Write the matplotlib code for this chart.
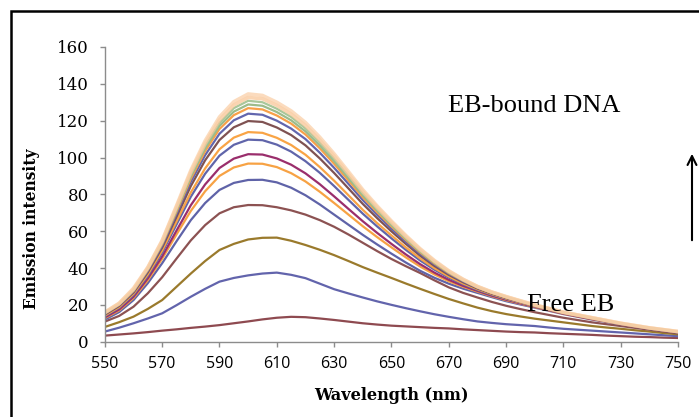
import matplotlib
matplotlib.use('Agg')
import matplotlib.pyplot as plt
from matplotlib.patches import Rectangle, FancyArrowPatch

# wavelength grid (nm), 5 nm steps
wavelength = list(range(550, 755, 5))

# emission spectra, lowest (free EB) first
free_eb = [3.3, 3.9, 4.5, 5.2, 6, 6.7, 7.5, 8.2, 9, 10, 11, 12.1, 13, 13.5, 13.3, 12.6, 11.8, 10.9, 10, 9.3, 8.7,
           8.3, 7.9, 7.5, 7.2, 6.7, 6.3, 5.9, 5.5, 5.2, 5, 4.6, 4.3, 4, 3.7, 3.3, 3, 2.7, 2.5, 2.2, 2]
s37 = [5.5, 7.6, 10, 12.6, 15.4, 19.8, 24.4, 28.7, 32.6, 34.6, 36, 37, 37.5, 36.3, 34.5, 31.5, 28.5, 26.2, 24, 21.9, 20,
       18.2, 16.5, 14.9, 13.5, 12.2, 11, 10.2, 9.5, 9, 8.5, 7.7, 7, 6.5, 6, 5.5, 5, 4.5, 4, 3.5, 3]
s57 = [8, 10.6, 13.6, 17.8, 22.6, 29.8, 37, 43.8, 49.8, 53.1, 55.5, 56.4, 56.5, 54.8, 52.5, 49.9, 47, 43.8, 40.5, 37.5, 34.6,
       31.6, 28.7, 25.9, 23.2, 20.8, 18.5, 16.6, 15, 13.7, 12.5, 11.5, 10.5, 9.5, 8.5, 7.7, 7, 6.2, 5.5, 4.7, 4]
s74 = [10.9, 14.0, 19, 26.3, 35, 45.1, 55, 63.3, 69.7, 73.0, 74.2, 74.1, 73, 71.3, 69, 66.0, 62.4, 58.2, 53.7, 49.2, 44.9,
       41.0, 37.3, 33.3, 29.5, 26.5, 24, 21.6, 19.5, 17.7, 16, 14.5, 13, 11.75, 10.5, 9.5, 8.5, 7.5, 6.5, 5.5, 4.5]
s88 = [12, 16.1, 22.6, 31.8, 42.6, 54.5, 66, 75.3, 82.4, 86.2, 87.8, 87.9, 86.5, 83.6, 79.5, 74.5, 69, 63.5, 58, 52.8, 47.8,
       43, 38.5, 34.7, 31.5, 28.8, 26.5, 24.2, 22, 20.2, 18.5, 16.75, 15, 13.5, 12, 10.75, 9.5, 8.25, 7, 6, 5]
s97 = [12.8, 17.0, 23.7, 33.4, 45, 58.2, 71, 81.7, 90, 94.6, 96.7, 96.6, 94.8, 91.5, 87, 81.4, 75.3, 69.0, 62.7, 56.8, 51.2,
       45.8, 40.8, 36.5, 32.8, 29.8, 27.2, 24.7, 22.5, 20.6, 18.8, 17.0, 15.2, 13.7, 12.2, 10.9, 9.6, 8.3, 7.1, 6.1, 5.1]
s102 = [13.2, 17.5, 24.4, 34.4, 46.3, 60.3, 74.1, 85.4, 94.3, 99.4, 101.8, 101.6, 99.5, 96.1, 91.4, 85.5, 78.9, 72.1, 65.4,
        59.1, 53.1, 47.4, 42.1, 37.5, 33.6, 30.3, 27.6, 25.0, 22.8, 20.8, 19, 17.1, 15.3, 13.8, 12.3, 11.0, 9.7, 8.4, 7.2,
        6.2, 5.2]
s110 = [13.9, 18.4, 25.4, 35.8, 48.4, 63.6, 78.7, 91.2, 101, 106.9, 109.7, 109.4, 107, 103.2, 98, 91.7, 84.5, 77.0, 69.5,
        62.6, 56.1, 49.9, 44.1, 39.1, 34.8, 31.2, 28.1, 25.5, 23.2, 21.1, 19.2, 17.3, 15.5, 14.0, 12.5, 11.1, 9.7, 8.5, 7.2,
        6.2, 5.2]
s114 = [14.2, 18.8, 26, 36.6, 49.5, 65.3, 81, 94.1, 104.5, 110.8, 113.8, 113.4, 110.7, 106.8, 101.5, 94.8, 87.4, 79.5, 71.6,
        64.4, 57.7, 51.2, 45.2, 39.9, 35.4, 31.6, 28.5, 25.8, 23.4, 21.3, 19.3, 17.4, 15.6, 14.1, 12.6, 11.2, 9.8, 8.5, 7.3,
        6.3, 5.3]
s120 = [14.7, 19.4, 26.7, 37.7, 51.1, 67.7, 84.5, 98.5, 109.5, 116.4, 119.8, 119.3, 116.3, 112.2, 106.6, 99.5, 91.6, 83.2,
        74.8, 67.1, 59.9, 53.1, 46.7, 41.1, 36.3, 32.3, 28.9, 26.1, 23.7, 21.6, 19.5, 17.6, 15.7, 14.2, 12.7, 11.3, 9.8, 8.6,
        7.3, 6.3, 5.3]
s124 = [15.1, 19.8, 27.2, 38.4, 52.1, 69.4, 86.8, 101.3, 112.9, 120.2, 123.8, 123.2, 120, 115.7, 110, 102.6, 94.4, 85.7,
        76.9, 68.9, 61.4, 54.3, 47.7, 41.9, 36.9, 32.7, 29.2, 26.4, 23.9, 21.7, 19.7, 17.7, 15.8, 14.3, 12.8, 11.3, 9.9, 8.6,
        7.4, 6.4, 5.4]
s127 = [15.3, 20.1, 27.6, 39.0, 53, 70.6, 88.5, 103.5, 115.5, 123.0, 126.8, 126.1, 122.8, 118.4, 112.5, 105.0, 96.6, 87.5,
        78.5, 70.3, 62.6, 55.3, 48.5, 42.5, 37.3, 33.1, 29.4, 26.5, 24.1, 21.9, 19.8, 17.8, 15.8, 14.3, 12.8, 11.4, 9.9, 8.7,
        7.4, 6.4, 5.4]
s129 = [15.5, 20.3, 27.9, 39.4, 53.5, 71.4, 89.7, 105.0, 117.2, 124.9, 128.8, 128.1, 124.7, 120.2, 114.2, 106.5, 98, 88.8,
        79.5, 71.2, 63.3, 55.9, 49, 42.9, 37.6, 33.3, 29.6, 26.7, 24.2, 22.0, 19.8, 17.9, 15.9, 14.4, 12.9, 11.4, 9.9, 8.7,
        7.4, 6.4, 5.4]
s131 = [15.7, 20.5, 28.1, 39.7, 54, 72.3, 90.8, 106.4, 118.8, 126.8, 130.8, 130.0, 126.5, 122.0, 115.8, 108.1, 99.4, 90.0,
        80.5, 72.0, 64.1, 56.5, 49.5, 43.3, 37.9, 33.5, 29.7, 26.8, 24.3, 22.0, 19.9, 17.9, 15.9, 14.4, 12.9, 11.4, 10, 8.7,
        7.5, 6.5, 5.5]
s133 = [15.8, 20.7, 28.4, 40.1, 54.5, 73.0, 91.9, 107.7, 120.4, 128.5, 132.6, 131.9, 128.3, 123.6, 117.4, 109.5, 100.7,
        91.1, 81.5, 72.9, 64.8, 57.1, 50, 43.7, 38.2, 33.7, 29.9, 26.9, 24.4, 22.1, 19.9, 18.0, 16, 14.5, 13, 11.5, 10, 8.7,
        7.5, 6.5, 5.5]
s134 = [16, 20.9, 29, 40.4, 55, 73.8, 93, 109.1, 122, 130.3, 134.5, 133.7, 130, 125.3, 119, 111, 102, 92.3, 82.5, 73.7,
        65.5, 57.7, 50.5, 44.1, 38.5, 33.9, 30, 27, 24.5, 22.2, 20, 18, 16, 14.5, 13, 11.5, 10, 8.8, 7.5, 6.5, 5.5]

spectra = [free_eb, s37, s57, s74, s88, s97, s102, s110, s114, s120,
           s124, s127, s129, s131, s133, s134]
colors = ['#8E4A50', '#6264AC', '#9A7A2C', '#8C5252', '#5F63A8', '#F7A244',
          '#9A2E6C', '#6065AA', '#F9A445', '#7F5252', '#6266AE', '#F8A048',
          '#9CBB8A', '#A9C79A', '#F9C89A', '#FAD0A8']

x_ticks = [550, 570, 590, 610, 630, 650, 670, 690, 710, 730, 750]
y_ticks = [0, 20, 40, 60, 80, 100, 120, 140, 160]

fig = plt.figure(figsize=(6.99, 4.17), dpi=100)
ax = fig.add_axes([0.150, 0.1806, 0.820, 0.7067])

for i, (ys, c) in enumerate(zip(spectra, colors)):
    lw = 2.6 if i >= 14 else 1.6
    alpha = 0.75 if i >= 14 else 1.0
    ax.plot(wavelength, ys, color=c, lw=lw, alpha=alpha)

ax.set_xlim(550, 750)
ax.set_ylim(0, 160)
ax.set_xticks(x_ticks)
ax.set_yticks(y_ticks)

for s in ['top', 'right']:
    ax.spines[s].set_visible(False)
for s in ['left', 'bottom']:
    ax.spines[s].set_color('#8c8c8c')
    ax.spines[s].set_linewidth(1)

ax.tick_params(axis='both', direction='out', length=3.6, width=1, color='#8c8c8c')
ax.tick_params(axis='x', pad=7)
ax.tick_params(axis='y', pad=8)
for lab in ax.get_xticklabels():
    lab.set_fontfamily('Open Sans')
    lab.set_fontsize(11.5)
for lab in ax.get_yticklabels():
    lab.set_fontfamily('DejaVu Serif')
    lab.set_fontsize(12)

fig.text(31 / 699, 1 - 229 / 417, 'Emission intensity', rotation=90,
         ha='center', va='center', family='DejaVu Serif', weight='bold', fontsize=11.2)
fig.text(391 / 699, 1 - 395 / 417, 'Wavelength (nm)',
         ha='center', va='center', family='DejaVu Serif', weight='bold', fontsize=11.6)

fig.text(534 / 699, 1 - 106 / 417, 'EB-bound DNA', ha='center', va='center',
         family='Liberation Serif', fontsize=19)
fig.text(571 / 699, 1 - 305 / 417, 'Free EB', ha='center', va='center',
         family='Liberation Serif', fontsize=19)

# arrow on the right
fig.patches.append(FancyArrowPatch(
    (692 / 699, 1 - 243 / 417), (692 / 699, 1 - 151 / 417),
    transform=fig.transFigure, arrowstyle='->', mutation_scale=16,
    color='black', lw=1.5))

# outer frame (runs off the right and bottom edges)
fig.patches.append(Rectangle((10.5 / 699, -0.2), 1.5, 1.2 - 10.5 / 417,
                             transform=fig.transFigure, fill=False,
                             edgecolor='black', lw=1.8))

fig.savefig('out.png', dpi=100)
